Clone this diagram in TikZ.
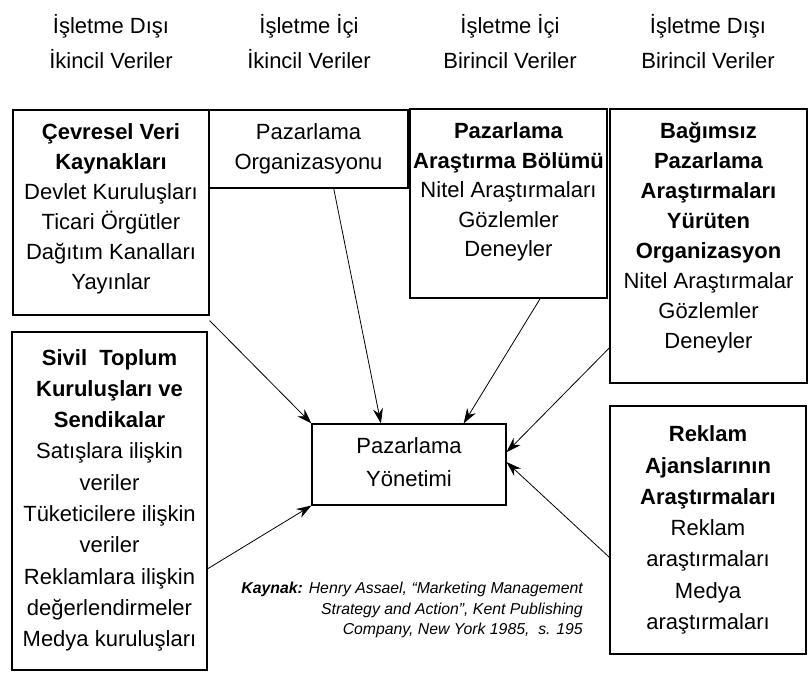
\documentclass[tikz,border=0pt]{standalone}
\usepackage{fontspec}
\setmainfont{Liberation Sans}
\usetikzlibrary{arrows.meta,calc}
\begin{document}
\begin{tikzpicture}[x=1pt,y=-1pt,
  box/.style={draw, line width=1.1pt, inner sep=0pt},
  txt/.style={inner sep=0pt, align=center, font=\fontsize{22}{#1}\selectfont},
  hdr/.style={inner sep=0pt, align=center, font=\fontsize{22}{35}\selectfont},
  srccap/.style={inner sep=0pt, align=right, anchor=east, font=\fontsize{15.8}{20.8}\selectfont\itshape},
  arr/.style={-{Stealth[length=15pt,width=10pt]}, line width=0.8pt}]
\useasboundingbox (0,0) rectangle (811,699);

% headers
\node[hdr] (h1) at (111,42) {İşletme Dışı\\İkincil Veriler};
\node[hdr] (h2) at (309,42) {İşletme İçi\\İkincil Veriler};
\node[hdr] (h3) at (510,42) {İşletme İçi\\Birincil Veriler};
\node[hdr] (h4) at (708,42) {İşletme Dışı\\Birincil Veriler};

% boxes
\node[box, minimum width=196pt, minimum height=205pt] (A) at (111,212.5) {};
\node[box, minimum width=199pt, minimum height=78pt]  (B) at (308.5,149) {};
\node[box, minimum width=197pt, minimum height=189pt] (C) at (508.5,203.5) {};
\node[box, minimum width=197pt, minimum height=274pt] (D) at (708.5,246) {};
\node[box, minimum width=195pt, minimum height=338pt] (E) at (109.5,501) {};
\node[box, minimum width=196pt, minimum height=248pt] (F) at (708,530) {};
\node[box, minimum width=194pt, minimum height=81pt]  (M) at (409,464.5) {};

% texts
\node[txt=30] (At) at (111,209) {\textbf{Çevresel Veri}\\\textbf{Kaynakları}\\Devlet Kuruluşları\\Ticari Örgütler\\Dağıtım Kanalları\\Yayınlar};
\node[txt=30] (Bt) at (308.5,149.3) {Pazarlama\\Organizasyonu};
\node[txt=29.5] (Ct) at (508.5,192.3) {\textbf{Pazarlama}\\\textbf{Araştırma Bölümü}\\Nitel Araştırmaları\\Gözlemler\\Deneyler};
\node[txt=29.9] (Dt) at (708.5,237.8) {\textbf{Bağımsız}\\\textbf{Pazarlama}\\\textbf{Araştırmaları}\\\textbf{Yürüten}\\\textbf{Organizasyon}\\Nitel Araştırmalar\\Gözlemler\\Deneyler};
\node[txt=31.3] (Et) at (109.5,500.3) {\textbf{Sivil\ \ Toplum}\\\textbf{Kuruluşları ve}\\\textbf{Sendikalar}\\Satışlara ilişkin\\veriler\\Tüketicilere ilişkin\\veriler\\Reklamlara ilişkin\\değerlendirmeler\\Medya kuruluşları};
\node[txt=31.3] (Ft) at (708,530) {\textbf{Reklam}\\\textbf{Ajanslarının}\\\textbf{Araştırmaları}\\Reklam\\araştırmaları\\Medya\\araştırmaları};
\node[txt=33] (Mt) at (409,462) {Pazarlama\\Yönetimi};

% caption
\node[srccap] (src) at (583,610) {\textbf{Kaynak:} Henry Assael, “Marketing Management\\Strategy and Action”, Kent Publishing\\Company, New York 1985,\ \ s. 195};

% connectors
\draw[arr] ($(A.south east)+(0,5)$) -- (M.north west);
\draw[arr] ($(B.south west)!0.626!(B.south east)$) -- ($(M.north west)!0.356!(M.north east)$);
\draw[arr] ($(C.south west)!0.66!(C.south east)$) -- ($(M.north west)!0.78!(M.north east)$);
\draw[arr] ($(D.north west)!0.87!(D.south west)$) -- ($(M.north east)!0.35!(M.south east)$);
\draw[arr] ($(F.north west)!0.61!(F.south west)$) -- ($(M.north east)!0.47!(M.south east)$);
\draw[arr] ($(E.north east)!0.70!(E.south east)$) -- (M.south west);
\end{tikzpicture}
\end{document}
